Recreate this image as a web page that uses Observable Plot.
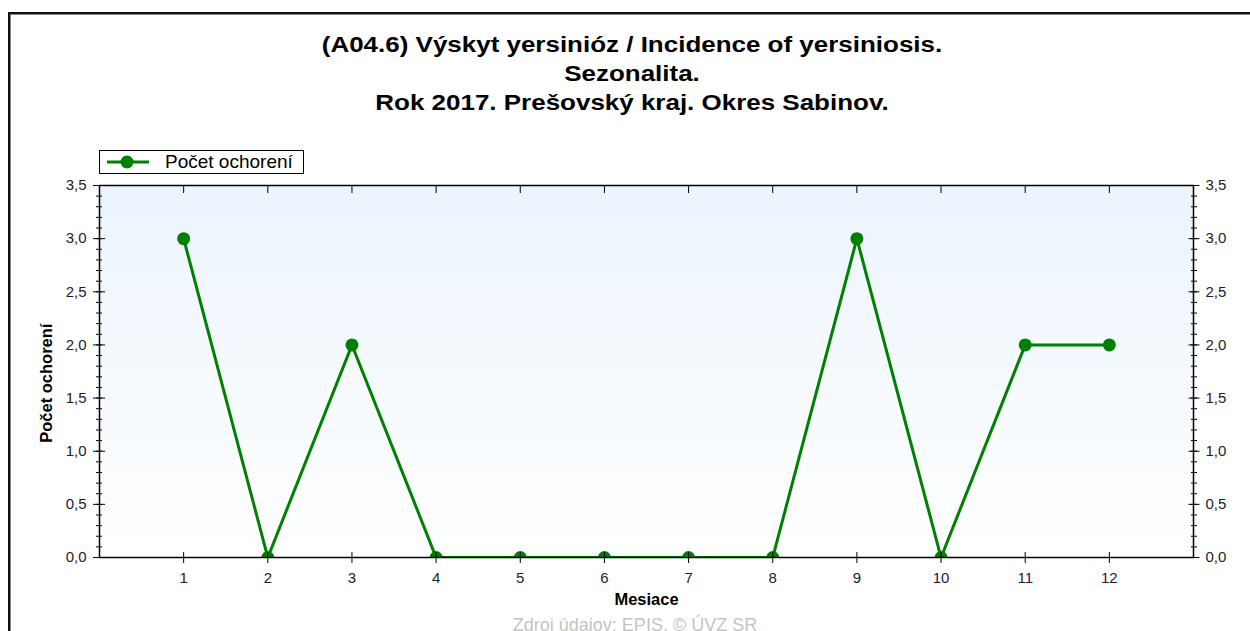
<!DOCTYPE html>
<html>
<head>
<meta charset="utf-8">
<script src="https://cdn.jsdelivr.net/npm/d3@7"></script>
<script src="https://cdn.jsdelivr.net/npm/@observablehq/plot@0.6"></script>
<style>
  html, body { margin: 0; padding: 0; background: #fff; overflow: hidden; }
  body { width: 1250px; height: 631px; position: relative; font-family: "Liberation Sans", Arial, sans-serif; }
  #border { position: absolute; left: 8px; top: 12px; width: 1400px; height: 800px; border-left: 2px solid #111; border-top: 2px solid #111; box-shadow: inset 1px 1px 0 #888; }
  #title { position: absolute; left: 0; top: 30px; width: 1264px; text-align: center; font-weight: bold; font-size: 22px; line-height: 29px; color: #000; transform: scaleX(1.18); transform-origin: 632px 0; }
  #legend { position: absolute; left: 99px; top: 150px; width: 203px; height: 22px; border: 1px solid #000; background: #fff; box-sizing: content-box; }
  #legend svg { position: absolute; left: 0; top: 0; }
  #legend span { position: absolute; left: 65px; top: 0px; font-size: 19px; line-height: 22px; color: #000; }
  #chart { position: absolute; left: 0; top: 130px; }
  #caption { position: absolute; left: 0; top: 615px; width: 1270px; text-align: center; font-size: 18px; color: #c4c4c4; }
</style>
</head>
<body>
<div id="border"></div>
<div id="title">
  <div>(A04.6) Výskyt yersinióz / Incidence of yersiniosis.</div>
  <div>Sezonalita.</div>
  <div>Rok 2017. Prešovský kraj. Okres Sabinov.</div>
</div>
<div id="chart"></div>
<div id="legend">
  <svg width="60" height="22"><line x1="7" y1="11" x2="49" y2="11" stroke="#008000" stroke-width="3"/><circle cx="27" cy="11" r="6.5" fill="#008000"/></svg>
  <span>Počet ochorení</span>
</div>
<div id="caption">Zdroj údajov: EPIS, © ÚVZ SR</div>
<script>
const months = [1, 2, 3, 4, 5, 6, 7, 8, 9, 10, 11, 12];
const cases = [3, 0, 2, 0, 0, 0, 0, 0, 3, 0, 2, 2];
const yMajor = [0, 0.5, 1, 1.5, 2, 2.5, 3, 3.5];
const yMinor = d3.range(0, 36).map(i => i / 10);
const yLabel = "Počet ochorení";
const xLabel = "Mesiace";

const data = months.map((m, i) => ({month: m, value: cases[i]}));
const fmt = d => d.toFixed(1).replace(".", ",");
const green = "#008000";
const ink = "#1c1c2c";

const svg = Plot.plot({
  width: 1250,
  height: 501,
  marginLeft: 99,
  marginRight: 57,
  marginTop: 55,
  marginBottom: 74,
  style: {fontFamily: "Liberation Sans, Arial, sans-serif", fontSize: "15px", background: "transparent", overflow: "visible"},
  x: {domain: [0, 13]},
  y: {domain: [0, 3.5]},
  marks: [
    Plot.frame({fill: "url(#bg)", stroke: null}),
    Plot.line(data, {x: "month", y: "value", stroke: green, strokeWidth: 3, clip: true}),
    Plot.dot(data, {x: "month", y: "value", r: 6.5, fill: green, stroke: null, clip: true}),
    Plot.frame({stroke: "#000", strokeWidth: 1.5}),
    // left axis
    Plot.axisY({anchor: "left", ticks: yMajor, tickSize: 12, insetLeft: 6, tickFormat: () => "", label: null, stroke: "#000"}),
    Plot.axisY({anchor: "left", ticks: yMinor, tickSize: 6, insetLeft: 3, tickFormat: () => "", label: null, stroke: "#000"}),
    Plot.axisY({anchor: "left", ticks: yMajor, tickSize: 0, tickPadding: 13, tickFormat: fmt, label: null, fill: ink, fontSize: 15}),
    // right axis
    Plot.axisY({anchor: "right", ticks: yMajor, tickSize: 11, insetRight: 5.5, tickFormat: () => "", label: null, stroke: "#000"}),
    Plot.axisY({anchor: "right", ticks: yMinor, tickSize: 6, insetRight: 3, tickFormat: () => "", label: null, stroke: "#000"}),
    Plot.axisY({anchor: "right", ticks: yMajor, tickSize: 0, tickPadding: 12, tickFormat: fmt, label: null, fill: ink, fontSize: 15}),
    // bottom axis
    Plot.axisX({anchor: "bottom", ticks: months, tickSize: 11, insetBottom: 5, tickFormat: () => "", label: null, stroke: "#000"}),
    Plot.axisX({anchor: "bottom", ticks: months, tickSize: 0, tickPadding: 15, tickFormat: d => String(d), label: null, fill: ink, fontSize: 15}),
    // top axis (inward ticks)
    Plot.axisX({anchor: "top", ticks: months, tickSize: 7, insetTop: 7, tickFormat: () => "", label: null, stroke: "#000"}),
    // axis titles
    Plot.text([yLabel], {y: [1.64], frameAnchor: "left", textAnchor: "middle", dx: -53, rotate: -90, fontWeight: "bold", fontSize: 16.5, fill: "#000"}),
    Plot.text([xLabel], {x: [6.5], frameAnchor: "bottom", dy: 47, fontWeight: "bold", fontSize: 16.5, fill: "#000"})
  ]
});

const ns = "http://www.w3.org/2000/svg";
const defs = document.createElementNS(ns, "defs");
const grad = document.createElementNS(ns, "linearGradient");
grad.setAttribute("id", "bg");
grad.setAttribute("x1", "0"); grad.setAttribute("y1", "0");
grad.setAttribute("x2", "0"); grad.setAttribute("y2", "1");
[["0", "#ebf4fd"], ["1", "#ffffff"]].forEach(([o, c]) => {
  const s = document.createElementNS(ns, "stop");
  s.setAttribute("offset", o); s.setAttribute("stop-color", c);
  grad.appendChild(s);
});
defs.appendChild(grad);
svg.insertBefore(defs, svg.firstChild);
document.getElementById("chart").appendChild(svg);
</script>
</body>
</html>
